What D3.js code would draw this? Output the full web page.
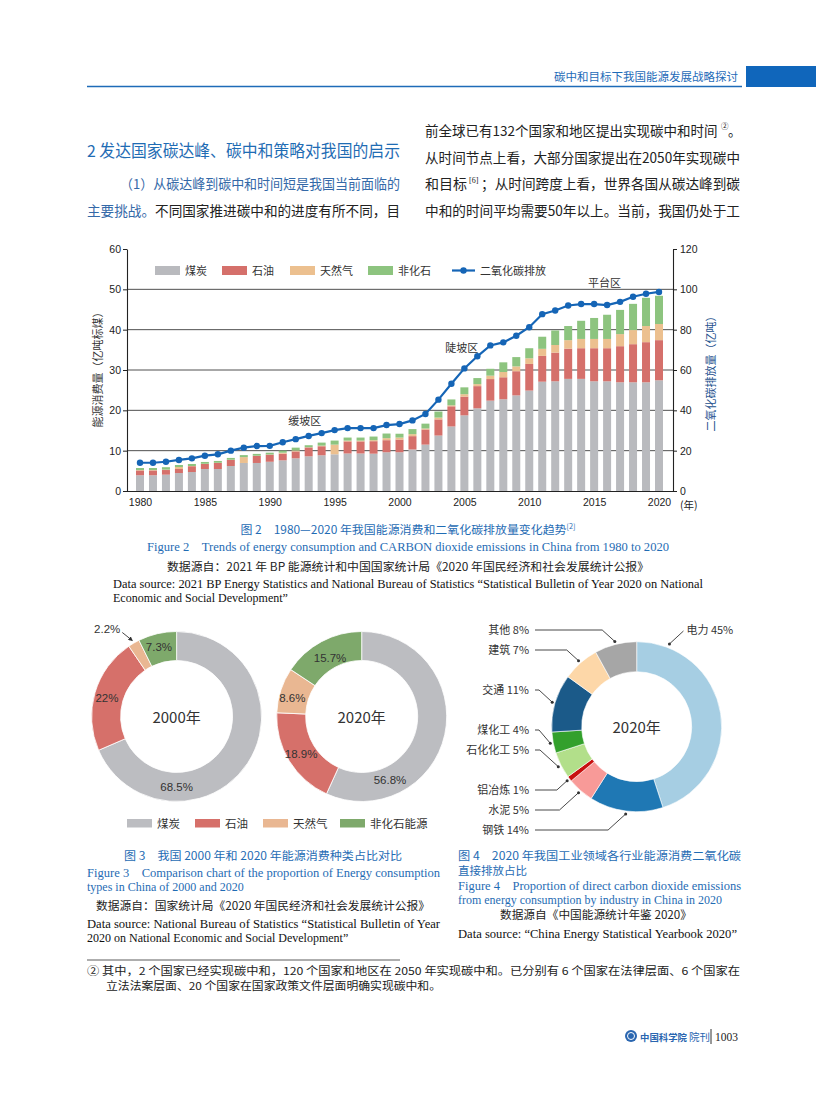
<!DOCTYPE html>
<html><head><meta charset="utf-8">
<script src="https://cdn.jsdelivr.net/npm/d3@7"></script>
<style>
body{margin:0;background:#fff}
svg{display:block}
text{font-family:"Noto Sans CJK SC","Noto Sans",sans-serif}
.lat{font-family:"Liberation Sans",Arial,sans-serif}
.ser{font-family:"Liberation Serif","Noto Sans CJK SC",serif}
</style>
</head><body>
<svg id="page" width="816" height="1099"></svg>
<script>
// ---------------- DATA ----------------
const years = [1980,1981,1982,1983,1984,1985,1986,1987,1988,1989,1990,1991,1992,1993,1994,1995,1996,1997,1998,1999,2000,2001,2002,2003,2004,2005,2006,2007,2008,2009,2010,2011,2012,2013,2014,2015,2016,2017,2018,2019,2020];
const coal = [3.9,3.9,4.05,4.45,4.7,5.45,5.45,6.2,6.95,6.95,7.25,7.6,8.1,8.6,8.85,9.1,9.3,9.3,9.25,9.6,9.6,10.3,11.5,13.75,16.0,18.75,20.5,22.4,22.75,23.7,24.9,27.1,27.2,27.8,27.8,27.2,27.2,26.95,26.95,26.95,27.45];
const oil = [1.2,1.2,1.15,1.0,1.45,1.25,1.5,1.5,0,1.75,1.75,1.65,1.7,2.2,2.25,0,3.0,3.0,3.1,3.0,3.15,3.3,3.75,4.0,5.0,4.65,5.5,5.35,5.45,6.0,6.6,6.4,7.1,7.5,7.6,8.2,8.2,8.95,9.45,9.95,9.95];
const gas = [0.1,0.1,0.1,0.5,0.05,0.05,0.05,0.05,1.45,0.05,0.05,0.25,0.25,0.05,0.15,2.4,0.2,0.2,0.25,0.5,0.5,0.5,0.25,0.45,0.25,0.6,0.5,0.85,1.3,1.2,1.4,1.75,1.9,2.1,2.3,2.3,2.3,3.0,3.5,4.0,4.0];
const nonFossil = [0.5,0.5,0.6,0.5,0.5,0.45,0.45,0.45,0.5,0.45,0.45,0.5,0.7,0.5,0.75,1.0,0.75,0.75,0.9,1.15,0.95,1.25,1.2,1.5,1.45,1.7,1.5,1.7,2.4,2.3,2.5,3.0,3.6,3.5,4.5,5.2,6.0,6.0,6.5,7.0,7.0];
const co2 = [14.0,14.0,14.5,15.4,16.2,17.5,18.2,20.0,21.5,22.3,22.4,24.2,25.7,27.3,28.7,30.2,31.2,31.2,31.2,32.7,33.2,35.0,38.2,45.3,53.2,60.8,66.8,72.2,73.7,77.0,81.2,87.7,89.5,92.0,92.7,92.7,92.2,93.8,96.3,97.8,98.7];
const seriesNames = ["煤炭","石油","天然气","非化石"];
const lineName = "二氧化碳排放";
const leftTicks = [0,10,20,30,40,50,60];
const rightTicks = [0,20,40,60,80,100,120];
const xTicks = [1980,1985,1990,1995,2000,2005,2010,2015,2020];
const zoneNames = ["缓坡区","陡坡区","平台区"];
const zoneYears = [1992.7,2004.8,2015.8];
const zoneValues = [17.4,35.5,51.6];

const mixNames = ["煤炭","石油","天然气","非化石能源"];
const mix2000 = [68.5,22,2.2,7.3];
const mix2020 = [56.8,18.9,8.6,15.7];
const industryNames = ["电力","钢铁","水泥","铝冶炼","石化化工","煤化工","交通","建筑","其他"];
const industryShare = [45,14,5,1,5,4,11,7,8];

// ---------------- STYLE / LAYOUT ----------------
const barColors = ["#b9babe","#d5706b","#ecc08f","#8dc47f"];
const lineColor = "#1565b6";
const mixColors = ["#bcbdc1","#d6706a","#e9b792","#7ea96b"];
const indColors = ["#a6cee3","#1f78b4","#f89a98","#c8100f","#b2df8a","#33a02c","#1b5a89","#fdd7a8","#a6a6a6"];
const blue = "#1f6cb4";

const svg = d3.select("#page");
svg.append("rect").attr("width",816).attr("height",1099).attr("fill","#fff");

function T(x,y,s,o={}){
  const t = svg.append("text").attr("x",x).attr("y",y).text(s)
    .attr("font-size",o.size||12).attr("fill",o.fill||"#222");
  if(o.cls) t.attr("class",o.cls);
  if(o.anchor) t.attr("text-anchor",o.anchor);
  if(o.len) t.attr("textLength",o.len).attr("lengthAdjust","spacingAndGlyphs");
  if(o.weight) t.attr("font-weight",o.weight);
  return t;
}

// ---------------- HEADER ----------------
svg.append("rect").attr("x",746).attr("y",66).attr("width",70).attr("height",21).attr("fill","#1066bb");
svg.append("line").attr("x1",87).attr("x2",742).attr("y1",86.5).attr("y2",86.5).attr("stroke","#1e6bb8").attr("stroke-width",1.4);
T(738,81,"碳中和目标下我国能源发展战略探讨",{size:11.5,fill:"#1e6bb8",anchor:"end"});

// ---------------- BODY TEXT ----------------
T(87,157,"2 发达国家碳达峰、碳中和策略对我国的启示",{size:16.5,fill:blue,len:313});
T(120,189,"（1）从碳达峰到碳中和时间短是我国当前面临的",{size:13.5,fill:"#3469a8",len:280});
{
  const t = T(87,216,"",{size:14,len:313});
  t.append("tspan").attr("fill","#3469a8").text("主要挑战。");
  t.append("tspan").attr("fill","#222").text("不同国家推进碳中和的进度有所不同，目");
}
T(425,136,"前全球已有132个国家和地区提出实现碳中和时间",{size:13.5});
T(721,129,"②",{size:7.5});
T(728,136,"。",{size:13.5});
T(425,163,"从时间节点上看，大部分国家提出在2050年实现碳中",{size:14,len:315});
T(425,189,"和目标",{size:14,len:42});
T(469,183,"[6]",{size:8,cls:"ser"});
T(481,189,"；从时间跨度上看，世界各国从碳达峰到碳",{size:14,len:259});
T(425,216,"中和的时间平均需要50年以上。当前，我国仍处于工",{size:14,len:315});

// ---------------- CHART 1 ----------------
const x = d3.scaleLinear().domain([1980,2020]).range([140,659]);
const y = d3.scaleLinear().domain([0,60]).range([491,249]);
const y2 = d3.scaleLinear().domain([0,120]).range([491,249]);
const plotL = 127, plotR = 673, barW = 8;

const g1 = svg.append("g");
g1.selectAll("line.grid").data(leftTicks.filter(v=>v>0 && v<60)).join("line")
  .attr("x1",plotL).attr("x2",plotR).attr("y1",d=>y(d)).attr("y2",d=>y(d))
  .attr("stroke","#3c3c3c").attr("stroke-width",0.9);

const rows = years.map((yr,i)=>({year:yr,c:coal[i],o:oil[i],g:gas[i],n:nonFossil[i]}));
const stack = d3.stack().keys(["c","o","g","n"])(rows);
g1.selectAll("g.layer").data(stack).join("g").attr("fill",(d,i)=>barColors[i])
  .selectAll("rect").data(d=>d).join("rect")
  .attr("x",d=>x(d.data.year)-barW/2).attr("width",barW)
  .attr("y",d=>y(d[1])).attr("height",d=>Math.max(0,y(d[0])-y(d[1])));

// axes
const ax = g1.append("g").attr("transform",`translate(${plotL},0)`)
  .call(d3.axisLeft(y).tickValues(leftTicks).tickSize(4).tickSizeOuter(0).tickPadding(2));
const ax2 = g1.append("g").attr("transform",`translate(${plotR},0)`)
  .call(d3.axisRight(y2).tickValues(rightTicks).tickSize(4).tickSizeOuter(0).tickPadding(3));
const ax3 = g1.append("g").attr("transform","translate(0,491)")
  .call(d3.axisBottom(x).tickValues(xTicks).tickFormat(d3.format("d")).tickSize(0).tickPadding(8));
ax3.select(".domain").remove();
g1.append("line").attr("x1",plotL).attr("x2",plotR).attr("y1",491.5).attr("y2",491.5).attr("stroke","#222").attr("stroke-width",1.2);
[ax,ax2,ax3].forEach(a=>{
  a.selectAll("text").attr("class","lat").attr("font-size",10.5).attr("fill","#222");
  a.selectAll("path.domain").attr("stroke","#222").attr("stroke-width",1.1);
  a.selectAll(".tick line").attr("stroke","#222");
});
T(680,508.5,"(年)",{size:10.5,fill:"#222"});

// CO2 line
g1.append("path").datum(co2)
  .attr("d",d3.line().x((d,i)=>x(years[i])).y(d=>y2(d)))
  .attr("fill","none").attr("stroke",lineColor).attr("stroke-width",2.2);
g1.selectAll("circle.pt").data(co2).join("circle")
  .attr("cx",(d,i)=>x(years[i])).attr("cy",d=>y2(d)).attr("r",3.2).attr("fill",lineColor);

// axis titles
T(0,0,"能源消费量（亿吨标煤）",{size:11,fill:"#333",anchor:"middle"})
  .attr("transform","translate(102,367) rotate(-90)");
T(0,0,"二氧化碳排放量（亿吨）",{size:11,fill:"#24518e",anchor:"middle"})
  .attr("transform","translate(715,371) rotate(-90)");

// zone annotations
zoneNames.forEach((s,i)=>T(x(zoneYears[i]),y(zoneValues[i])+4,s,{size:11,fill:"#333",anchor:"middle"}));

// legend
const legX = [155,222,290,368];
seriesNames.forEach((s,i)=>{
  svg.append("rect").attr("x",legX[i]).attr("y",266).attr("width",25).attr("height",9).attr("fill",barColors[i]);
  T(legX[i]+30,275,s,{size:11,fill:"#333"});
});
svg.append("line").attr("x1",452).attr("x2",475).attr("y1",270.5).attr("y2",270.5).attr("stroke",lineColor).attr("stroke-width",2.2);
svg.append("circle").attr("cx",463.5).attr("cy",270.5).attr("r",3.2).attr("fill",lineColor);
T(480,275,lineName,{size:11,fill:"#333"});

// captions fig 2
T(408,534,"图 2　1980—2020 年我国能源消费和二氧化碳排放量变化趋势",{size:11.5,fill:blue,anchor:"middle",len:335})
  .append("tspan").attr("font-size",7).attr("dy",-5).text("[2]");
T(408,551,"Figure 2　Trends of energy consumption and CARBON dioxide emissions in China from 1980 to 2020",{size:12,fill:blue,anchor:"middle",cls:"ser",len:522});
T(408,571,"数据源自：2021 年 BP 能源统计和中国国家统计局《2020 年国民经济和社会发展统计公报》",{size:11.5,fill:"#222",anchor:"middle",len:482});
T(113,588,"Data source:  2021 BP Energy Statistics and National Bureau of Statistics \u201cStatistical Bulletin of Year 2020 on National",{size:12,fill:"#111",cls:"ser",len:590});
T(113,602,"Economic and Social Development\u201d",{size:12,fill:"#111",cls:"ser"});

// ---------------- DONUTS (fig 3) ----------------
const pie = d3.pie().sort(null).value(d=>d);
const R = 85, r = 56;
const arc = d3.arc().innerRadius(r).outerRadius(R);
// label placement (angle in degrees clockwise from top, radius)
const labelPos2000 = [[180,70.5],[284.5,72],null,[345.7,71.7]];
const labelPos2020 = [[156,69.5],[238.3,71.3],[285.2,71.9],[331.7,66.8]];

function donut(cx,cy,values,labelPos,title){
  const g = svg.append("g").attr("transform",`translate(${cx},${cy})`);
  const arcs = pie(values);
  g.selectAll("path").data(arcs).join("path").attr("d",arc)
    .attr("fill",(d,i)=>mixColors[i]).attr("stroke","#fff").attr("stroke-width",0.8);
  arcs.forEach((a,i)=>{
    const lp = labelPos[i];
    if(lp){
      const ang = lp[0]*Math.PI/180;
      g.append("text").attr("class","lat").attr("x",lp[1]*Math.sin(ang)).attr("y",-lp[1]*Math.cos(ang)+4)
        .attr("text-anchor","middle").attr("font-size",11.5).attr("fill","#333").text(values[i]+"%");
    } else {
      const mid=(a.startAngle+a.endAngle)/2, ex=(R+3)*Math.sin(mid), ey=-(R+3)*Math.cos(mid);
      g.append("line").attr("x1",ex-10).attr("y1",ey-8).attr("x2",ex).attr("y2",ey)
        .attr("stroke","#333").attr("stroke-width",0.9).attr("marker-end","url(#arr)");
      g.append("text").attr("class","lat").attr("x",ex-12).attr("y",ey-7)
        .attr("text-anchor","end").attr("font-size",11.5).attr("fill","#333").text(values[i]+"%");
    }
  });
  g.append("text").attr("y",6).attr("text-anchor","middle").attr("font-size",15).attr("fill","#333").text(title);
}
svg.append("defs").append("marker").attr("id","arr").attr("viewBox","0 0 6 6").attr("refX",5).attr("refY",3)
  .attr("markerWidth",5).attr("markerHeight",5).attr("orient","auto")
  .append("path").attr("d","M0,0L6,3L0,6z").attr("fill","#333");

donut(176.6,716.5,mix2000,labelPos2000,"2000年");
donut(361.7,716.5,mix2020,labelPos2020,"2020年");

const mixLegX = [127,195,263,340];
mixNames.forEach((s,i)=>{
  svg.append("rect").attr("x",mixLegX[i]).attr("y",819).attr("width",25).attr("height",8.5).attr("fill",mixColors[i]);
  T(mixLegX[i]+30,827.5,s,{size:11.5,fill:"#333"});
});

// ---------------- INDUSTRY DONUT (fig 4) ----------------
{
  const cx=636.7, cy=726.7, R3=85, r3=55;
  const arc3 = d3.arc().innerRadius(r3).outerRadius(R3);
  const g = svg.append("g").attr("transform",`translate(${cx},${cy})`);
  const arcs = pie(industryShare);
  g.selectAll("path").data(arcs).join("path").attr("d",arc3)
    .attr("fill",(d,i)=>indColors[i]).attr("stroke","#fff").attr("stroke-width",0.6);
  g.append("text").attr("y",6).attr("text-anchor","middle").attr("font-size",15).attr("fill","#333").text("2020年");
  const labelY = [630,830,810,790,750,730,690,650,630];
  arcs.forEach((a,i)=>{
    const ly = labelY[i]-cy;
    let mid = (a.startAngle+a.endAngle)/2;
    if(i===0){
      mid = 21.6*Math.PI/180;
      const ex=(R3+4)*Math.sin(mid), ey=-(R3+4)*Math.cos(mid);
      g.append("path").attr("d",`M${ex+14},${ly+1}L${ex},${ey}`).attr("fill","none").attr("stroke","#333").attr("stroke-width",0.9);
      g.append("circle").attr("cx",ex).attr("cy",ey).attr("r",1.5).attr("fill","#333");
      g.append("text").attr("x",ex+17).attr("y",ly+4).attr("font-size",11).attr("fill","#333").text(industryNames[i]+" "+industryShare[i]+"%");
      return;
    }
    const ex=(R3+3)*Math.sin(mid), ey=-(R3+3)*Math.cos(mid);
    const lx = 535-cx;
    const bx = Math.max(lx+4, ex-Math.abs(ey-ly)*1.1);
    g.append("path").attr("d",`M${lx},${ly}H${bx}L${ex},${ey}`).attr("fill","none").attr("stroke","#333").attr("stroke-width",0.9);
    g.append("circle").attr("cx",ex).attr("cy",ey).attr("r",1.5).attr("fill","#333");
    g.append("text").attr("x",lx-6).attr("y",ly+4).attr("text-anchor","end").attr("font-size",11).attr("fill","#333")
      .text(industryNames[i]+" "+industryShare[i]+"%");
  });
}

// ---------------- CAPTIONS fig 3 / fig 4 ----------------
T(263,860,"图 3　我国 2000 年和 2020 年能源消费种类占比对比",{size:11.5,fill:blue,anchor:"middle",len:278});
T(87,877,"Figure 3　Comparison chart of the proportion of Energy consumption",{size:12,fill:blue,cls:"ser",len:353});
T(87,891,"types in China of 2000 and 2020",{size:12,fill:blue,cls:"ser"});
T(96,910,"数据源自：国家统计局《2020 年国民经济和社会发展统计公报》",{size:11.5,fill:"#222",len:334});
T(87,928,"Data source: National Bureau of Statistics \u201cStatistical Bulletin of Year",{size:12,fill:"#111",cls:"ser",len:353});
T(87,942,"2020 on National Economic and Social Development\u201d",{size:12,fill:"#111",cls:"ser"});

T(458,860,"图 4　2020 年我国工业领域各行业能源消费二氧化碳",{size:11.5,fill:blue,len:283});
T(458,875,"直接排放占比",{size:11.5,fill:blue});
T(458,890,"Figure 4　Proportion of direct carbon dioxide emissions",{size:12,fill:blue,cls:"ser",len:283});
T(458,904,"from energy consumption by industry in China in 2020",{size:12,fill:blue,cls:"ser",len:264});
T(596,919,"数据源自《中国能源统计年鉴 2020》",{size:11.5,fill:"#222",anchor:"middle",len:192});
T(458,938,"Data source: \u201cChina Energy Statistical Yearbook 2020\u201d",{size:12,fill:"#111",cls:"ser",len:279});

// footnote
svg.append("line").attr("x1",87).attr("x2",400).attr("y1",960).attr("y2",960).attr("stroke","#333").attr("stroke-width",0.8);
T(87,975,"② 其中，2 个国家已经实现碳中和，120 个国家和地区在 2050 年实现碳中和。已分别有 6 个国家在法律层面、6 个国家在",{size:11,fill:"#222",len:653});
T(106,990,"立法法案层面、20 个国家在国家政策文件层面明确实现碳中和。",{size:11,fill:"#222",len:335});

// footer
svg.append("circle").attr("cx",631).attr("cy",1036).attr("r",6).attr("fill","#2a66b0");
svg.append("circle").attr("cx",631).attr("cy",1036).attr("r",3.5).attr("fill","none").attr("stroke","#fff").attr("stroke-width",1);
T(640,1040.5,"中国科学院",{size:9.4,fill:"#2a66b0",weight:700});
T(689,1041,"院刊",{size:10.5,fill:"#2a66b0"});
svg.append("line").attr("x1",711).attr("x2",711).attr("y1",1029).attr("y2",1044).attr("stroke","#333").attr("stroke-width",1);
T(715,1041,"1003",{size:11.5,fill:"#222",cls:"ser"});
</script>
</body></html>
